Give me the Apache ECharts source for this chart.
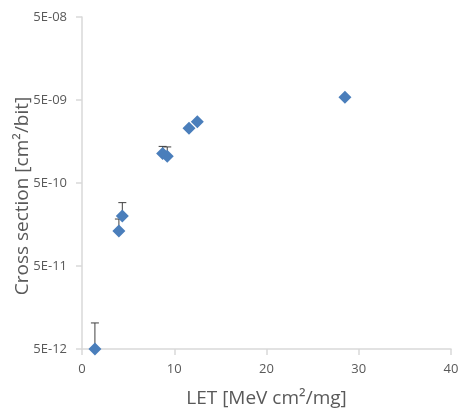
<!DOCTYPE html>
<html>
<head>
<meta charset="utf-8">
<script src="https://cdn.jsdelivr.net/npm/echarts@6/dist/echarts.min.js"></script>
<style>
  html, body { margin: 0; padding: 0; background: #fff; }
  #chart { width: 458px; height: 411px; }
</style>
</head>
<body>
<div id="chart"></div>
<script>
const letValues = [1.4, 4.0, 4.37, 8.74, 9.24, 11.6, 12.5, 28.5];
const crossSection = [5.0e-12, 1.32e-10, 2.0e-10, 1.13e-9, 1.05e-9, 2.29e-9, 2.74e-9, 5.4e-9];
// upper end of the error bar, null where none is visible
const errorUpper = [1.03e-11, 1.84e-10, 2.9e-10, 1.38e-9, 1.36e-9, null, null, null];
const yTickLabels = ['5E-12', '5E-11', '5E-10', '5E-09', '5E-08'];

// y axis is drawn in decades above 5E-12
const base = 5e-12;
function ly (v) {
  return Math.log10(v / base);
}

const points = letValues.map((x, i) => [x, ly(crossSection[i])]);
const bars = [];
letValues.forEach((x, i) => {
  if (errorUpper[i] !== null) {
    bars.push([x, ly(crossSection[i]), ly(errorUpper[i])]);
  }
});

const font = '"Open Sans", "Noto Sans", sans-serif';
const chart = echarts.init(document.getElementById('chart'));

chart.setOption({
  animation: false,
  grid: {
    left: 82,
    right: 7,
    top: 17,
    bottom: 62,
    outerBoundsMode: 'none'
  },
  xAxis: {
    type: 'value',
    min: 0,
    max: 40,
    interval: 10,
    name: 'LET [MeV cm²/mg]',
    nameLocation: 'middle',
    nameGap: 40,
    nameTextStyle: { color: '#595959', fontSize: 19, fontFamily: font },
    axisLine: { lineStyle: { color: '#d9d9d9', width: 1.5 } },
    axisTick: { show: true, length: 6, lineStyle: { color: '#d9d9d9', width: 1.5 } },
    axisLabel: { color: '#595959', fontSize: 13, fontFamily: font, margin: 14 },
    splitLine: { show: false }
  },
  yAxis: {
    type: 'value',
    min: 0,
    max: 4,
    interval: 1,
    name: 'Cross section [cm²/bit]',
    nameLocation: 'middle',
    nameGap: 50,
    nameMoveOverlap: false,
    // title sits a little below the middle of the axis in the original
    nameTextStyle: { color: '#595959', fontSize: 19, fontFamily: font, padding: [0, 26, 0, 0] },
    axisLine: { show: true, lineStyle: { color: '#d9d9d9', width: 1.5 } },
    axisTick: { show: true, length: 6, lineStyle: { color: '#d9d9d9', width: 1.5 } },
    axisLabel: {
      color: '#595959',
      fontSize: 13,
      fontFamily: font,
      margin: 15,
      formatter: v => yTickLabels[Math.round(v)]
    },
    splitLine: { show: false }
  },
  series: [
    {
      type: 'custom',
      data: bars,
      z: 1,
      clip: false,
      renderItem: function (params, api) {
        const bottom = api.coord([api.value(0), api.value(1)]);
        const top = api.coord([api.value(0), api.value(2)]);
        const style = { stroke: '#404040', lineWidth: 1 };
        return {
          type: 'group',
          children: [
            { type: 'line', shape: { x1: bottom[0], y1: bottom[1], x2: top[0], y2: top[1] }, style: style },
            { type: 'line', shape: { x1: top[0] - 4, y1: top[1], x2: top[0] + 4, y2: top[1] }, style: style }
          ]
        };
      }
    },
    {
      type: 'scatter',
      data: points,
      z: 2,
      clip: false,
      symbol: 'diamond',
      symbolSize: 13,
      itemStyle: { color: '#4A7EBB', opacity: 1 }
    }
  ]
});
</script>
</body>
</html>
